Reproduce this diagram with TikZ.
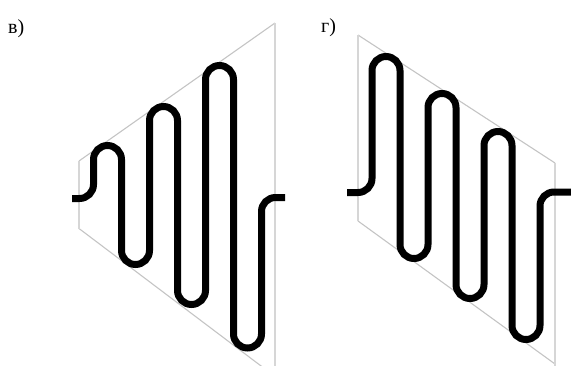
\documentclass[tikz,border=0pt]{standalone}
\usepackage{fontspec}
\setmainfont{Liberation Serif}
\usepackage{tikz}
\definecolor{cedge}{HTML}{C4C4C4}
\definecolor{cpost}{HTML}{D6D6D6}
\tikzset{
  edge/.style={draw=cedge, line width=1.1pt},
  post/.style={draw=cpost, line width=2.6pt},
  wire/.style={draw=black, line width=7pt, rounded corners=14pt},
  tag/.style={font=\fontsize{20}{24}\selectfont, anchor=base west, inner sep=0pt},
}

\begin{document}
\begin{tikzpicture}[x=1pt,y=-1pt]
\useasboundingbox (0,0) rectangle (571,365);
\clip (0,0) rectangle (571,365);
% labels
\node[tag] (lblV) at (8,33) {в)};
\node[tag] (lblG) at (321,32) {г)};
% left frame
\draw[edge] (79,161) -- (275,23);
\draw[edge] (79,228.5) -- (275,376.5);
\draw[edge, line width=1.6pt, draw=cpost] (79,161) -- (79,228.5);
\draw[post] (275,23) -- (275,370);
% left meander
\draw[wire] (72,198.5) -- (93.5,198.5) -- (93.5,145.5) -- (121.5,145.5)
  -- (121.5,264.5) -- (149.5,264.5) -- (149.5,106.5) -- (177.5,106.5)
  -- (177.5,304.5) -- (205.5,304.5) -- (205.5,65.5) -- (233.5,65.5)
  -- (233.5,348) -- (261.5,348) -- (261.5,197.5) -- (285,197.5);
% right frame
\draw[edge] (358,35) -- (555,163);
\draw[edge] (358,221) -- (555,364);
\draw[post] (358,35) -- (358,221);
\draw[post] (555,163) -- (555,370);
% right meander
\draw[wire] (347,192.5) -- (372,192.5) -- (372,56.5) -- (400,56.5)
  -- (400,258.5) -- (428,258.5) -- (428,93.5) -- (456,93.5)
  -- (456,298.5) -- (484,298.5) -- (484,131.5) -- (512,131.5)
  -- (512,339.5) -- (540,339.5) -- (540,192) -- (571,192);
\end{tikzpicture}
\end{document}
